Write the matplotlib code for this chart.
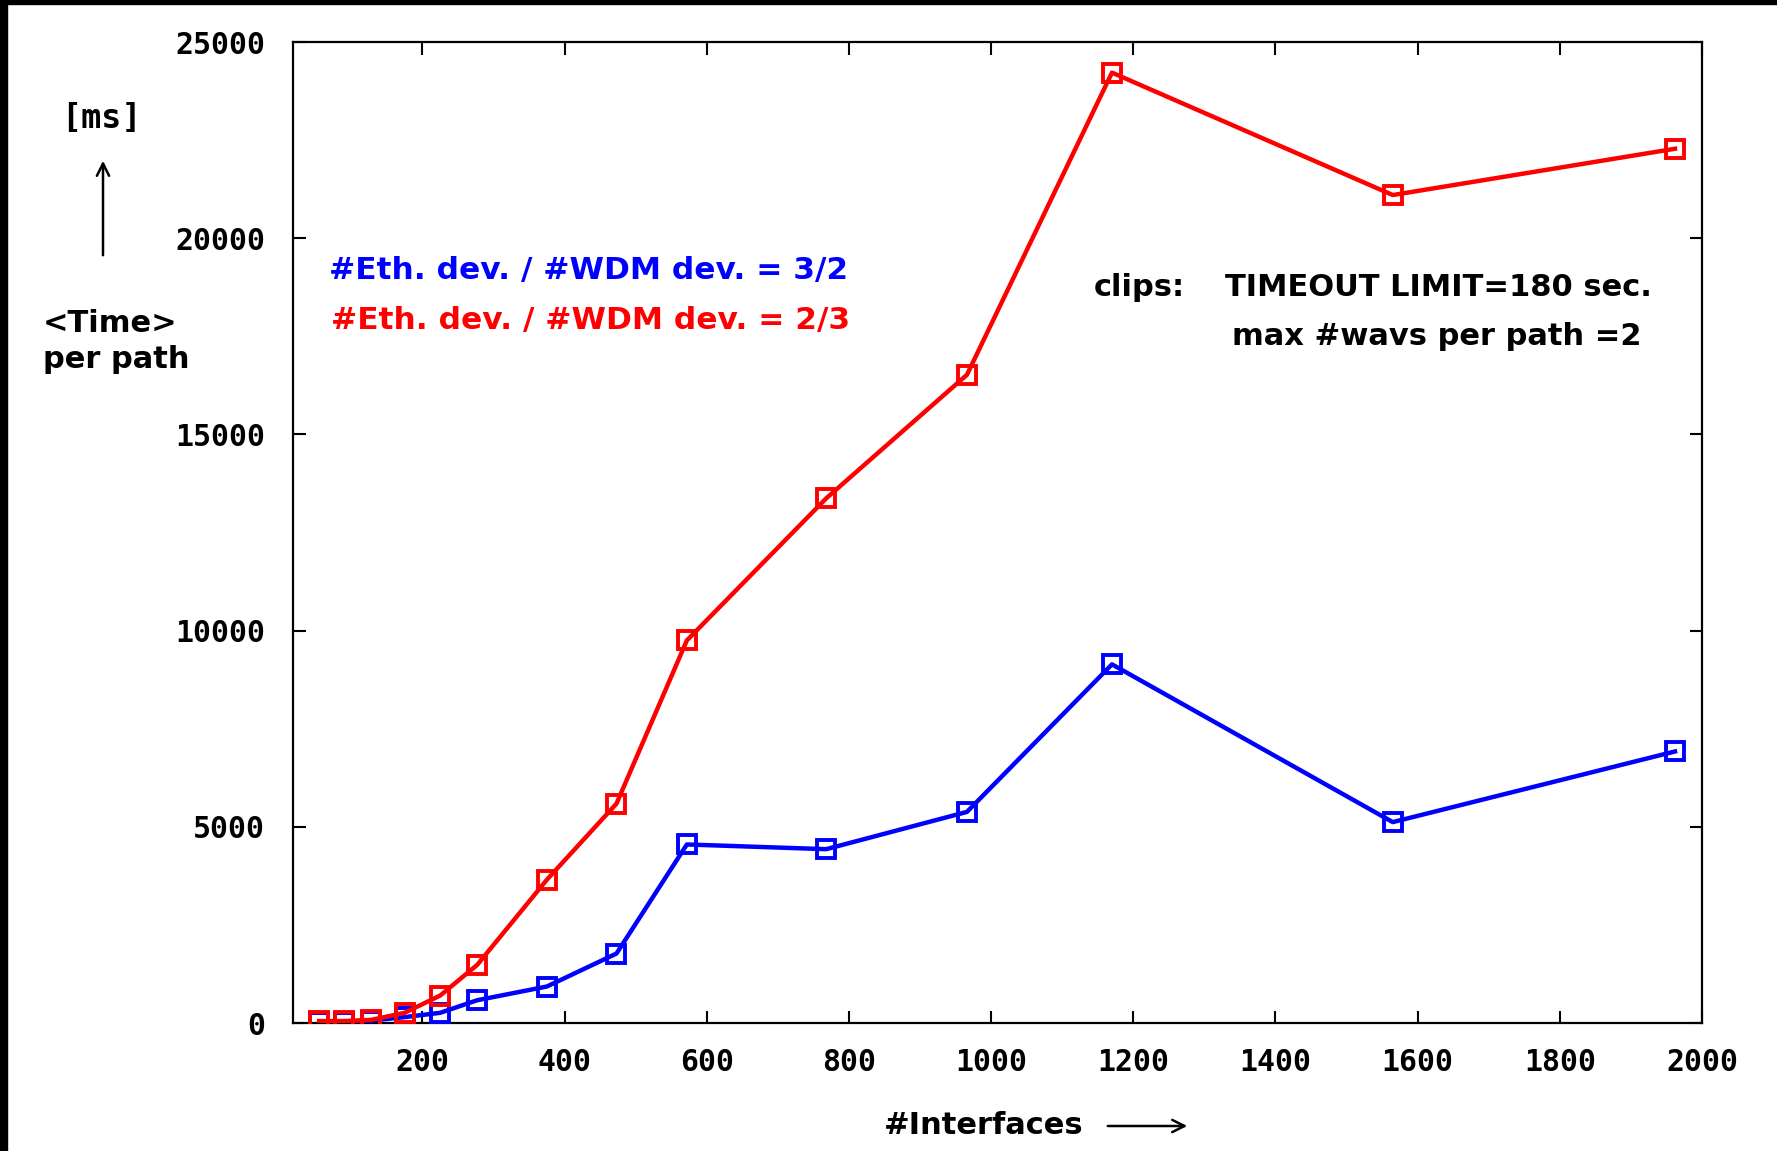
import matplotlib.pyplot as plt
from matplotlib.patches import Rectangle

# number of interfaces
interfaces = [55, 90, 128, 175, 225, 277, 375, 473, 572, 768, 966, 1170, 1565, 1962]
# <Time> per path [ms]
time_32 = [20, 30, 60, 150, 260, 580, 930, 1770, 4550, 4430, 5380, 9140, 5120, 6920]
time_23 = [50, 50, 80, 260, 700, 1480, 3650, 5590, 9750, 13370, 16520, 24220, 21100, 22280]

xticks = [200, 400, 600, 800, 1000, 1200, 1400, 1600, 1800, 2000]
yticks = [0, 5000, 10000, 15000, 20000, 25000]

fig = plt.figure(figsize=(17.77, 11.51), dpi=100)
ax = fig.add_axes([0.1649, 0.1112, 0.7929, 0.8523])

ax.plot(interfaces, time_32, color='#0000ff', lw=3.2, marker='s', ms=13,
        mfc='none', mew=2.8, zorder=3)
ax.plot(interfaces, time_23, color='#ff0000', lw=3.2, marker='s', ms=13,
        mfc='none', mew=2.8, zorder=4)

ax.set_xlim(18, 2000)
ax.set_ylim(0, 25000)
ax.set_xticks(xticks)
ax.set_yticks(yticks)
ax.tick_params(direction='in', length=9, width=1.5, top=True, right=True,
               labelsize=21.5)
ax.tick_params(axis='x', pad=18)
ax.tick_params(axis='y', pad=20)
for lab in ax.get_xticklabels() + ax.get_yticklabels():
    lab.set_family('DejaVu Sans Mono')
    lab.set_fontweight('bold')
for s in ax.spines.values():
    s.set_linewidth(1.6)

W, H = 1777, 1151

# legend-like texts inside plot
fig.text(329 / W, 1 - 270 / H, '#Eth. dev. / #WDM dev. = 3/2', color='#0000ff',
         fontsize=22.5, fontweight='bold', va='center', ha='left')
fig.text(331 / W, 1 - 321 / H, '#Eth. dev. / #WDM dev. = 2/3', color='#ff0000',
         fontsize=22.5, fontweight='bold', va='center', ha='left')

fig.text(1094 / W, 1 - 287 / H, 'clips:', fontsize=22, fontweight='bold',
         va='center', ha='left')
fig.text(1225 / W, 1 - 287 / H, 'TIMEOUT LIMIT=180 sec.', fontsize=22,
         fontweight='bold', va='center', ha='left')
fig.text(1232 / W, 1 - 337 / H, 'max #wavs per path =2', fontsize=22,
         fontweight='bold', va='center', ha='left')

# y label with arrow
fig.text(101 / W, 1 - 118 / H, '[ms]', fontsize=24, fontweight='bold',
         family='DejaVu Sans Mono', va='center', ha='center')
ax.annotate('', xy=(103 / W, 1 - 158 / H), xytext=(103 / W, 1 - 258 / H),
            xycoords='figure fraction', textcoords='figure fraction',
            annotation_clip=False,
            arrowprops=dict(arrowstyle='->', lw=1.8, color='black', mutation_scale=22))
fig.text(43 / W, 1 - 323 / H, '<Time>', fontsize=22, fontweight='bold',
         va='center', ha='left')
fig.text(43 / W, 1 - 359 / H, 'per path', fontsize=22, fontweight='bold',
         va='center', ha='left')

# x label with arrow
fig.text(884 / W, 1 - 1125 / H, '#Interfaces', fontsize=22, fontweight='bold',
         va='center', ha='left')
ax.annotate('', xy=(1190 / W, 1 - 1126 / H), xytext=(1105 / W, 1 - 1126 / H),
            xycoords='figure fraction', textcoords='figure fraction',
            annotation_clip=False,
            arrowprops=dict(arrowstyle='->', lw=1.8, color='black', mutation_scale=22))

# black frame edges of the screenshot
fig.patches.append(Rectangle((0, 0), 7 / W, 1, transform=fig.transFigure,
                             color='black', zorder=10))
fig.patches.append(Rectangle((0, 1 - 4 / H), 1, 4 / H, transform=fig.transFigure,
                             color='black', zorder=10))

fig.savefig('out.png', dpi=100)
